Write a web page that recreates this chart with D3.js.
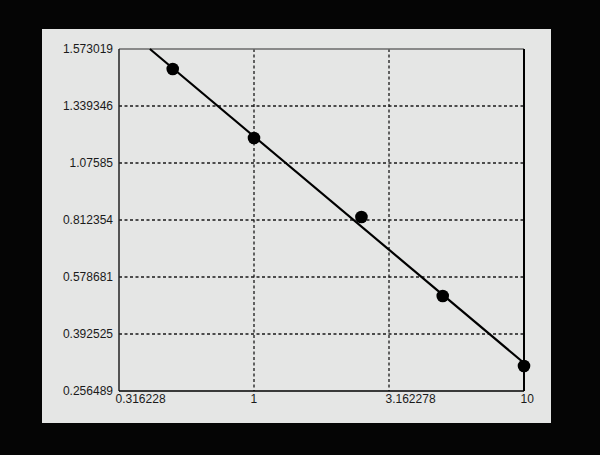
<!DOCTYPE html>
<html><head><meta charset="utf-8">
<script src="https://cdn.jsdelivr.net/npm/d3@7"></script>
<style>html,body{margin:0;padding:0;background:#050505;}svg{display:block;}</style>
</head><body>
<svg id="c" width="600" height="455"></svg>
<script>
// Data
const xTickValues = [0.316228, 1, 3.162278, 10];
const xTickLabels = ["0.316228", "1", "3.162278", "10"];
const yTickValues = [1.573019, 1.339346, 1.07585, 0.812354, 0.578681, 0.392525, 0.256489];
const yTickLabels = ["1.573019", "1.339346", "1.07585", "0.812354", "0.578681", "0.392525", "0.256489"];
const pointX = [0.5, 1, 2.5, 5, 10];
const pointY = [1.491, 1.1915, 0.826, 0.5167, 0.3162];
const fitX = [0.4115, 10];
const fitY = [1.573019, 0.3233];

const svg = d3.select("#c");
svg.append("rect").attr("x",0).attr("y",0).attr("width",600).attr("height",455).attr("fill","#050505");
svg.append("rect").attr("x",42).attr("y",29).attr("width",509).attr("height",394).attr("fill","#e5e6e5");

const L = 119, R = 524, T = 49, B = 391;
const x = d3.scaleLog().domain([xTickValues[0], xTickValues[xTickValues.length-1]]).range([L, R]);
const step = (B - T) / (yTickValues.length - 1);
const y = d3.scaleLinear().domain(yTickValues).range(yTickValues.map((d,i) => T + i*step));

// grid
const grid = svg.append("g").attr("stroke","#1a1a1a").attr("stroke-width",1.3).attr("stroke-dasharray","3,2.5");
grid.selectAll("line.h").data(yTickValues.slice(1, -1)).join("line")
  .attr("x1", L).attr("x2", R).attr("y1", d => y(d)).attr("y2", d => y(d));
grid.selectAll("line.v").data(xTickValues.slice(1, -1)).join("line")
  .attr("y1", T).attr("y2", B).attr("x1", d => x(d)).attr("x2", d => x(d));

// frame
svg.append("line").attr("x1",L).attr("x2",R).attr("y1",T).attr("y2",T).attr("stroke","#6a6a6a").attr("stroke-width",1.5);
svg.append("line").attr("x1",L).attr("x2",L).attr("y1",T).attr("y2",B).attr("stroke","#222").attr("stroke-width",1.5);
svg.append("line").attr("x1",R).attr("x2",R).attr("y1",T).attr("y2",B).attr("stroke","#000").attr("stroke-width",2);
svg.append("line").attr("x1",L).attr("x2",R).attr("y1",B).attr("y2",B).attr("stroke","#000").attr("stroke-width",1.5);

// axes
const font = "'Liberation Sans', Arial, sans-serif";
const ya = svg.append("g").attr("transform", `translate(${L},0)`)
  .call(d3.axisLeft(y).tickValues(yTickValues).tickFormat((d,i) => yTickLabels[i]).tickSize(0).tickPadding(6));
ya.select(".domain").remove();
ya.selectAll("text").attr("font-family", font).attr("font-size", 12).attr("fill", "#1a1a1a");

const xa = svg.append("g").attr("transform", `translate(0,${B})`)
  .call(d3.axisBottom(x).tickValues(xTickValues).tickFormat((d,i) => xTickLabels[i]).tickSize(0).tickPadding(3));
xa.select(".domain").remove();
xa.selectAll("text").attr("font-family", font).attr("font-size", 12).attr("fill", "#1a1a1a")
  .attr("text-anchor", "start").attr("dx", -4);

// fit line
const line = d3.line().x(d => x(d[0])).y(d => y(d[1]));
svg.append("path").datum(fitX.map((d,i) => [d, fitY[i]])).attr("d", line)
  .attr("fill","none").attr("stroke","#000").attr("stroke-width",2.2);

// points
svg.append("g").selectAll("circle").data(pointX.map((d,i) => [d, pointY[i]])).join("circle")
  .attr("cx", d => x(d[0])).attr("cy", d => y(d[1])).attr("r", 6.3).attr("fill","#000");
</script>
</body></html>
